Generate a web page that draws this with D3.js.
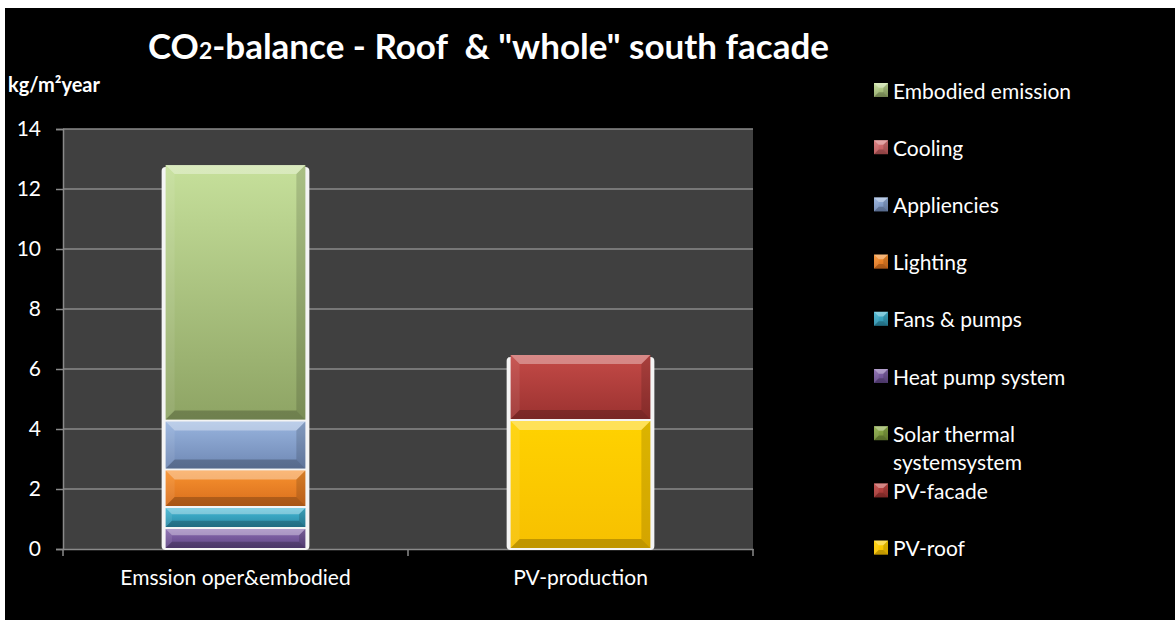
<!DOCTYPE html>
<html>
<head>
<meta charset="utf-8">
<script src="https://cdn.jsdelivr.net/npm/d3@7"></script>
<style>
  html, body { margin: 0; padding: 0; background: #ffffff; }
  svg { display: block; }
  text { font-family: Lato, "Open Sans", sans-serif; }
</style>
</head>
<body>
<svg id="chart" width="1175" height="620"></svg>
<script>
// Categories on the x axis
const categories = ["Emssion oper&embodied", "PV-production"];

// Stack order, bottom to top (legend lists them top to bottom)
const seriesNames = [
  "PV-roof",
  "PV-facade",
  "Solar thermal systemsystem",
  "Heat pump system",
  "Fans & pumps",
  "Lighting",
  "Appliencies",
  "Cooling",
  "Embodied emission"
];

// kg CO2 per m² and year, one value per category
const pvRoof        = [0, 4.3];
const pvFacade      = [0, 2.2];
const solarThermal  = [0, 0];
const heatPump      = [0.7, 0];
const fansPumps     = [0.7, 0];
const lighting      = [1.25, 0];
const appliencies   = [1.63, 0];
const cooling       = [0, 0];
const embodied      = [8.55, 0];

const yTicks = [0, 2, 4, 6, 8, 10, 12, 14];

// Base colours (light top, dark bottom of each segment)
const colors = {
  "PV-roof":                   ["#ffd200", "#f7c000"],
  "PV-facade":                 ["#c44a47", "#9b3230"],
  "Solar thermal systemsystem":["#8fb04a", "#6f8a35"],
  "Heat pump system":          ["#8a6cb0", "#5f4585"],
  "Fans & pumps":              ["#45b8d4", "#2a8aa6"],
  "Lighting":                  ["#f8922f", "#d86e1c"],
  "Appliencies":               ["#98b4de", "#6f88b4"],
  "Cooling":                   ["#d9787a", "#b85456"],
  "Embodied emission":         ["#c6e09b", "#8ea464"]
};

const valuesBy = {
  "PV-roof": pvRoof, "PV-facade": pvFacade, "Solar thermal systemsystem": solarThermal,
  "Heat pump system": heatPump, "Fans & pumps": fansPumps, "Lighting": lighting,
  "Appliencies": appliencies, "Cooling": cooling, "Embodied emission": embodied
};

const table = categories.map((c, i) => {
  const row = { category: c };
  seriesNames.forEach(s => row[s] = valuesBy[s][i]);
  return row;
});

const svg = d3.select("#chart");
const W = 1175, H = 620;

// white page with the black chart panel
svg.append("rect").attr("width", W).attr("height", H).attr("fill", "#ffffff");
svg.append("rect").attr("x", 5).attr("y", 8).attr("width", W - 5).attr("height", H - 8).attr("fill", "#000000");

const plot = { left: 63, right: 753, top: 129, bottom: 549 };

const x = d3.scaleBand().domain(categories).range([plot.left, plot.right]).paddingInner(0).paddingOuter(0);
const y = d3.scaleLinear().domain([0, 14]).range([plot.bottom, plot.top]);
const barW = x.bandwidth() * 0.405;

// plot background
svg.append("rect")
  .attr("x", plot.left).attr("y", plot.top)
  .attr("width", plot.right - plot.left).attr("height", plot.bottom - plot.top)
  .attr("fill", "#404040");

// gradients
const defs = svg.append("defs");
seriesNames.forEach((s, i) => {
  const g = defs.append("linearGradient").attr("id", "grad" + i)
    .attr("x1", 0).attr("y1", 0).attr("x2", 0).attr("y2", 1);
  g.append("stop").attr("offset", "0%").attr("stop-color", colors[s][0]);
  g.append("stop").attr("offset", "100%").attr("stop-color", colors[s][1]);
});

// horizontal gridlines
svg.append("g").selectAll("line").data(yTicks.filter(t => t > 0)).join("line")
  .attr("x1", plot.left).attr("x2", plot.right)
  .attr("y1", d => y(d)).attr("y2", d => y(d))
  .attr("stroke", "#8a8a8a").attr("stroke-width", 1.5);

// y axis
const yAxis = svg.append("g").attr("transform", `translate(${plot.left},0)`)
  .call(d3.axisLeft(y).tickValues(yTicks).tickSize(7).tickPadding(15).tickFormat(d3.format("d")));
yAxis.select(".domain").attr("stroke", "#8a8a8a").attr("stroke-width", 1.5);
yAxis.selectAll(".tick line").attr("stroke", "#8a8a8a").attr("stroke-width", 1.5);
yAxis.selectAll(".tick text").attr("fill", "#ffffff").attr("font-size", 21)
  .attr("font-family", "Lato, sans-serif");

// x axis
const xAxis = svg.append("g").attr("transform", `translate(0,${plot.bottom})`)
  .call(d3.axisBottom(x).tickSize(0).tickPadding(21));
xAxis.select(".domain").attr("stroke", "#8a8a8a").attr("stroke-width", 1.5);
xAxis.selectAll(".tick text").attr("fill", "#ffffff").attr("font-size", 21)
  .attr("font-family", "Lato, sans-serif");
// category boundary tick marks
svg.append("g").selectAll("line").data([0, 1, 2]).join("line")
  .attr("x1", d => plot.left + d * x.step()).attr("x2", d => plot.left + d * x.step())
  .attr("y1", plot.bottom).attr("y2", plot.bottom + 7)
  .attr("stroke", "#8a8a8a").attr("stroke-width", 1.5);

// stacked bars
const stacked = d3.stack().keys(seriesNames)(table);

const barsG = svg.append("g");
// white halo behind each bar stack
categories.forEach((c, ci) => {
  const total = d3.sum(seriesNames, s => valuesBy[s][ci]);
  const bx = x(c) + (x.bandwidth() - barW) / 2;
  barsG.append("rect")
    .attr("x", bx - 4).attr("y", y(total) + 3)
    .attr("width", barW + 8).attr("height", y(0) - y(total) - 2)
    .attr("rx", 4).attr("fill", "#f4f4f4");
});

function bevel(g, x0, y0, w, h, fillId) {
  const b = Math.min(9, h / 3, w / 3);
  g.append("rect").attr("x", x0).attr("y", y0).attr("width", w).attr("height", h).attr("fill", `url(#${fillId})`);
  // top facet
  g.append("polygon")
    .attr("points", [[x0, y0], [x0 + w, y0], [x0 + w - b, y0 + b], [x0 + b, y0 + b]].join(" "))
    .attr("fill", "#ffffff").attr("opacity", 0.35);
  // bottom facet
  g.append("polygon")
    .attr("points", [[x0, y0 + h], [x0 + w, y0 + h], [x0 + w - b, y0 + h - b], [x0 + b, y0 + h - b]].join(" "))
    .attr("fill", "#000000").attr("opacity", 0.22);
  // left facet
  g.append("polygon")
    .attr("points", [[x0, y0], [x0 + b, y0 + b], [x0 + b, y0 + h - b], [x0, y0 + h]].join(" "))
    .attr("fill", "#ffffff").attr("opacity", 0.08);
  // right facet
  g.append("polygon")
    .attr("points", [[x0 + w, y0], [x0 + w - b, y0 + b], [x0 + w - b, y0 + h - b], [x0 + w, y0 + h]].join(" "))
    .attr("fill", "#000000").attr("opacity", 0.14);
}

stacked.forEach((layer, li) => {
  layer.forEach(d => {
    const v = d[1] - d[0];
    if (v <= 0) return;
    const bx = x(d.data.category) + (x.bandwidth() - barW) / 2;
    const top = y(d[1]), bot = y(d[0]);
    bevel(barsG, bx, top + 1, barW, bot - top - 2, "grad" + li);
  });
});

// title
const title = svg.append("text")
  .attr("x", 148).attr("y", 59).attr("text-anchor", "start")
  .attr("fill", "#ffffff").attr("font-size", 35).attr("font-weight", "bold");
title.append("tspan").text("CO");
title.append("tspan").attr("font-size", 23).text("2");
title.append("tspan").text("-balance - Roof\u00a0 & \"whole\" south facade");

// unit label
svg.append("text").attr("x", 8).attr("y", 92)
  .attr("fill", "#ffffff").attr("font-size", 20).attr("font-weight", "bold")
  .text("kg/m²year");

// legend
const legendItems = seriesNames.slice().reverse();
const legendLines = {
  "Solar thermal systemsystem": ["Solar thermal", "systemsystem"]
};
const lg = svg.append("g");
legendItems.forEach((s, i) => {
  const cy = 90 + i * 57.2;
  const li = seriesNames.indexOf(s);
  const g = lg.append("g");
  bevel(g, 874, cy - 7, 14, 14, "grad" + li);
  const lines = legendLines[s] || [s];
  lines.forEach((t, k) => {
    g.append("text").attr("x", 893).attr("y", cy + k * 28)
      .attr("dominant-baseline", "central")
      .attr("fill", "#ffffff").attr("font-size", 21).text(t);
  });
});
</script>
</body>
</html>
